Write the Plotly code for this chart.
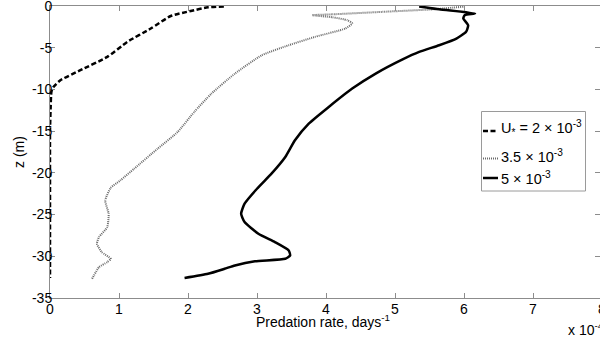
import plotly.graph_objects as go

# Predation rate profiles (units of 1e-4 days^-1) against depth z (m)
rate_u2 = [2.52, 2.29, 2.04, 1.75, 1.46, 1.12, 0.83, 0.44, 0.15, 0.05, 0.02, 0.01, 0.0, 0.0, 0.0, 0.0, 0.0]
z_u2 = [-0.05, -0.16, -0.6, -1.2, -2.7, -4.3, -6.1, -7.7, -8.9, -9.7, -10.3, -12, -15, -20, -25, -30, -32.6]

rate_u35 = [5.99, 5.55, 4.82, 4.09, 3.80, 4.09, 4.31, 4.38, 4.28, 3.84, 3.46, 3.07, 2.68, 2.34, 2.09,
            1.85, 1.56, 1.22, 1.02, 0.88, 0.80, 0.85, 0.83, 0.71, 0.68, 0.75, 0.88, 0.83, 0.71, 0.61]
z_u35 = [-0.08, -0.4, -0.7, -1.0, -1.1, -1.35, -1.7, -2.1, -2.7, -3.7, -4.7, -5.9, -8.1, -10.5, -12.7,
         -15.1, -17.1, -19.5, -20.9, -21.8, -23.3, -24.9, -26.5, -27.7, -28.5, -29.5, -30.3, -30.7, -31.3, -32.7]

rate_u5 = [5.35, 5.64, 6.16, 6.01, 5.99, 6.06, 6.03, 5.89, 5.64, 5.35, 5.11, 4.72, 4.38, 4.04, 3.75, 3.55,
           3.41, 3.21, 3.0, 2.82, 2.77, 2.82, 3.02, 3.26, 3.46, 3.48, 3.41, 2.97, 2.68, 2.53, 2.29, 1.95]
z_u5 = [-0.05, -0.4, -0.9, -1.1, -1.5, -2.3, -3.1, -3.9, -4.7, -5.5, -6.4, -8.1, -9.9, -12.1, -14.1, -16.1,
        -18.1, -20.1, -21.9, -23.7, -24.9, -25.9, -27.3, -28.3, -29.3, -29.9, -30.3, -30.6, -31.1, -31.5, -32.1, -32.6]

labels = ["U<sub>*</sub> = 2 \u00d7 10<sup>-3</sup>",
          "3.5 \u00d7 10<sup>-3</sup>",
          "5 \u00d7 10<sup>-3</sup>"]

x_ticks = [0, 1, 2, 3, 4, 5, 6, 7]
x_edge_tick = 8
y_ticks = [0, -5, -10, -15, -20, -25, -30, -35]

FONT = "Liberation Sans, Arial, sans-serif"
AXIS_GRAY = "#8c8c8c"

# plot area geometry (pixels)
W, H = 600, 341
L, R, T, B = 50, 0, 6, 43
PW, PH = W - L - R, H - T - B
PX_PER_UNIT = 69.0
X_MAX = PW / PX_PER_UNIT

def px_x(px):
    return (px - L) / PW

def px_y(py):
    return (H - B - py) / PH

styles = [
    dict(color="black", width=2.5, dash="5px,2.5px"),
    dict(color="#6a6a6a", width=2, dash="1px,1px"),
    dict(color="black", width=2.5, dash="solid"),
]

fig = go.Figure()
for xs, zs, name, st in zip([rate_u2, rate_u35, rate_u5], [z_u2, z_u35, z_u5], labels, styles):
    fig.add_trace(go.Scatter(x=xs, y=zs, mode="lines", name=name, showlegend=False,
                             line=dict(shape="spline", smoothing=0.5, **st)))

fig.update_layout(
    width=W, height=H,
    margin=dict(l=L, r=R, t=T, b=B),
    paper_bgcolor="white", plot_bgcolor="white",
    font=dict(family=FONT, size=14, color="black"),
    showlegend=False,
    xaxis=dict(range=[0, X_MAX], tickvals=x_ticks, ticktext=[str(v) for v in x_ticks],
               automargin=False, ticklabelstandoff=-2,
               showgrid=False, zeroline=False, showline=True, linecolor=AXIS_GRAY, linewidth=1,
               mirror="ticks", ticks="inside", ticklen=5, tickcolor=AXIS_GRAY),
    yaxis=dict(range=[-35, 0], tickvals=y_ticks, ticktext=[str(v) for v in y_ticks],
               automargin=False, ticklabeloverflow="allow", ticklabelstandoff=-6,
               showgrid=False, zeroline=False, showline=True, linecolor=AXIS_GRAY, linewidth=1,
               mirror="ticks", ticks="inside", ticklen=5, tickcolor=AXIS_GRAY,
               title=dict(text="z (m)", standoff=4, font=dict(size=14))),
)

# tick label at the right edge of the axis, partly past the page
fig.add_annotation(text=str(x_edge_tick), xref="paper", yref="paper",
                   x=x_edge_tick * PX_PER_UNIT / PW, y=px_y(309), xanchor="center", yanchor="middle",
                   showarrow=False, font=dict(size=14))

# x-axis title and exponent
fig.add_annotation(text="Predation rate, days<sup>-1</sup>", xref="paper", yref="paper",
                   x=px_x(323), y=px_y(320.5), xanchor="center", yanchor="middle",
                   showarrow=False, font=dict(size=14))
fig.add_annotation(text="x 10<sup>-4</sup>", xref="paper", yref="paper",
                   x=px_x(566), y=px_y(328.5), xanchor="left", yanchor="middle",
                   showarrow=False, font=dict(size=14))

# legend box
fig.add_shape(type="rect", xref="paper", yref="paper",
              x0=px_x(481.5), x1=px_x(585.5), y0=px_y(191), y1=px_y(111.5),
              line=dict(color="#9a9a9a", width=1), fillcolor="white", layer="above")
legend_lines = [131, 158.5, 178]
legend_text = [127.5, 156, 178]
for ly, ty, name, st in zip(legend_lines, legend_text, labels, styles):
    fig.add_shape(type="line", xref="paper", yref="paper",
                  x0=px_x(483), x1=px_x(498), y0=px_y(ly), y1=px_y(ly),
                  line=dict(color=st["color"], width=st["width"], dash=st["dash"]), layer="above")
    fig.add_annotation(text=name, xref="paper", yref="paper",
                       x=px_x(498.5), y=px_y(ty), xanchor="left", yanchor="middle",
                       showarrow=False, font=dict(size=14.5))

fig.write_html("out.html")
